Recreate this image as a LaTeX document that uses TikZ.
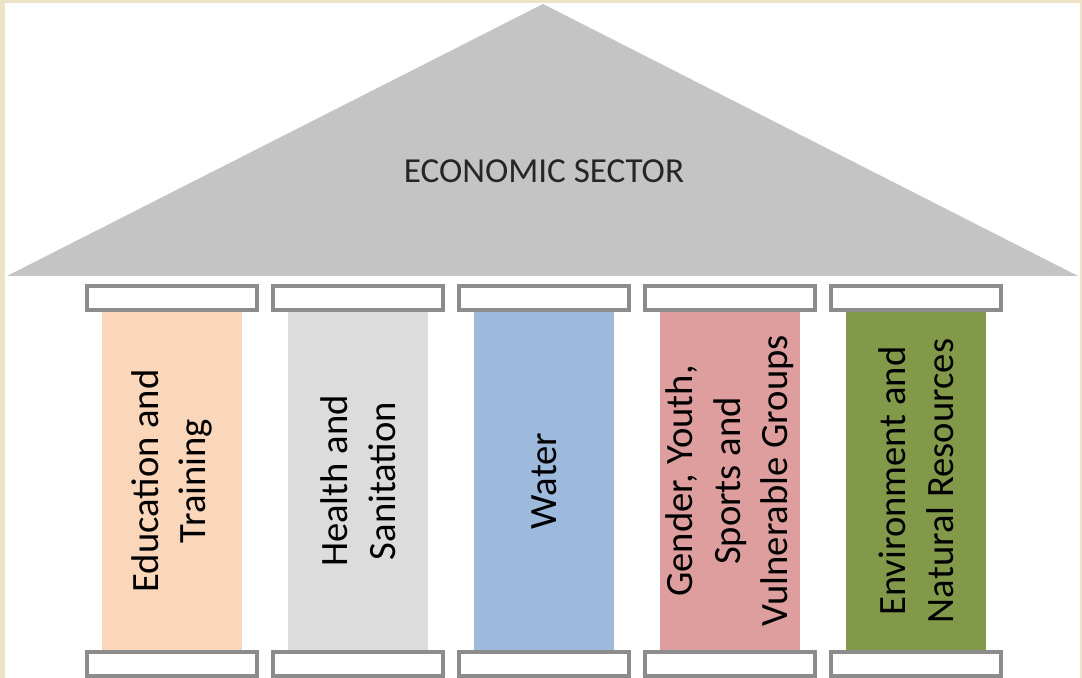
\documentclass[tikz,border=0pt]{standalone}
\usepackage{fontspec}
\setmainfont{Carlito}
\usepackage{tikz}
\usetikzlibrary{positioning}

\definecolor{frameBeige}{HTML}{EDE3C8}
\definecolor{roofGray}{HTML}{C4C4C4}
\definecolor{capGray}{HTML}{8C8C8C}
\definecolor{eduPeach}{HTML}{FAD7BA}
\definecolor{healthGray}{HTML}{DCDCDC}
\definecolor{waterBlue}{HTML}{9DB9DB}
\definecolor{genderRose}{HTML}{DE9E9E}
\definecolor{envGreen}{HTML}{82994A}

\begin{document}
\begin{tikzpicture}[
		x=0.02cm, y=-0.02cm,
		column/.style={rotate=90, minimum width=6.76cm, minimum height=2.82cm,
			inner sep=0pt, align=center, text=black,
			font=\fontsize{22}{27}\selectfont},
		capbox/.style={draw=capGray, fill=white, line width=0.08cm,
			minimum width=3.4cm, minimum height=0.48cm, inner sep=0pt},
		rooftext/.style={font=\fontsize{20}{24}\selectfont, text=black!85}
		]

	% frame and page
	\fill[frameBeige] (0,0) rectangle (1082,678);
	\fill[white] (5,3) rectangle (1080,678);
	\useasboundingbox (0,0) rectangle (1082,678);

	% roof
	\fill[roofGray] (7,276) -- (543,4) -- (1078,276) -- cycle;
	\node[rooftext] (roof) at (544,171) {ECONOMIC SECTOR};

	% pillars with their caps
	\foreach \name/\fillc/\txt [count=\i from 0] in {
			edu/eduPeach/{Education and\\Training},
			health/healthGray/{Health and\\Sanitation},
			water/waterBlue/{Water},
			gender/genderRose/{Gender, Youth,\\Sports and\\Vulnerable Groups},
			env/envGreen/{Environment and\\Natural Resources}} {
		\node[column, fill=\fillc] (\name) at ({172+186*\i},481) {\txt};
		\node[capbox] (\name-top) at ({172+186*\i},298) {};
		\node[capbox] (\name-base) at ({172+186*\i},664) {};
	}

\end{tikzpicture}
\end{document}
